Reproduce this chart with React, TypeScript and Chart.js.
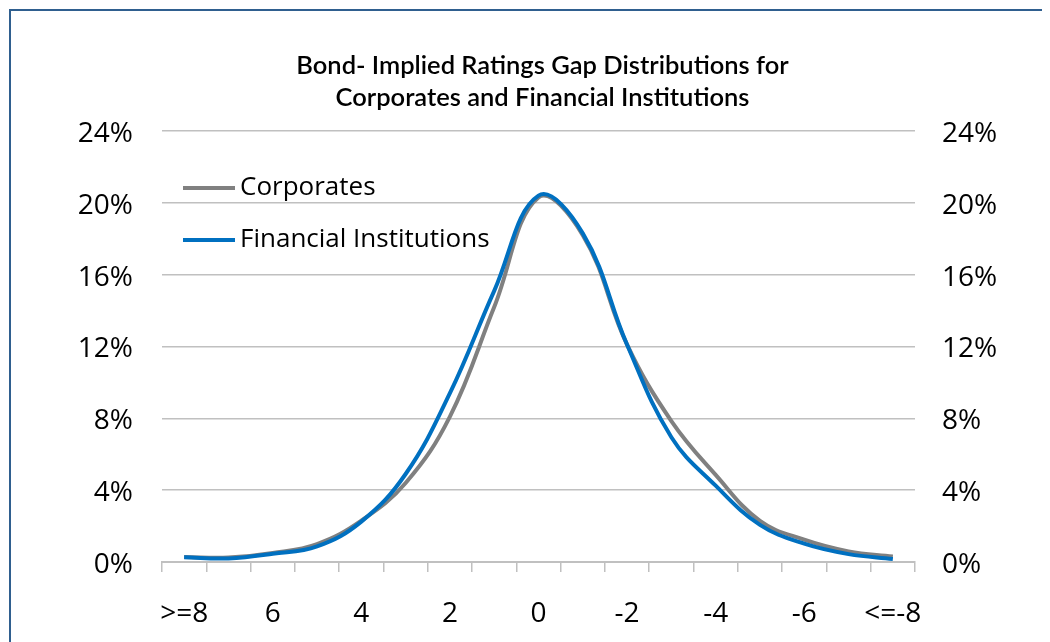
import React, { useEffect, useRef } from 'react';
import { Chart, registerables } from 'chart.js';

Chart.register(...registerables);

const categories = ['>=8', '7', '6', '5', '4', '3', '2', '1', '0', '-1', '-2', '-3', '-4', '-5', '-6', '-7', '<=-8'];
const corporates = [0.28, 0.25, 0.5, 1.0, 2.3, 4.4, 8.1, 14.2, 20.3, 18.2, 12.1, 7.85, 4.85, 2.29, 1.24, 0.59, 0.31];
const financialInstitutions = [0.26, 0.2, 0.46, 0.87, 2.25, 4.9, 9.4, 15.1, 20.4, 18.3, 12.1, 6.95, 4.25, 2.07, 1.02, 0.44, 0.17];
const seriesNames = ['Corporates', 'Financial Institutions'];
const seriesColors = ['#808080', '#0070c0'];
const titleLines = ['Bond- Implied Ratings Gap Distributions for', 'Corporates and Financial Institutions'];
const yMin = 0;
const yMax = 24;
const yStep = 4;

const W = 1042;
const H = 634;
const TICK_FONT = { family: '"Open Sans"', size: 28 };

const titlePlugin = {
  id: 'customTitle',
  afterDraw(chart: any) {
    const { ctx, chartArea } = chart;
    ctx.save();
    ctx.font = '600 25.5px Lato';
    ctx.fillStyle = '#000';
    ctx.textAlign = 'center';
    ctx.textBaseline = 'alphabetic';
    const cx = (chartArea.left + chartArea.right) / 2 + 4;
    titleLines.forEach((t, i) => ctx.fillText(t, cx, 66 + i * 32));
    ctx.restore();
  },
};

const legendPlugin = {
  id: 'insideLegend',
  afterDraw(chart: any) {
    const { ctx, chartArea } = chart;
    ctx.save();
    chart.data.datasets.forEach((ds: any, i: number) => {
      const y = chartArea.top + 57 + i * 52;
      const x0 = chartArea.left + 21;
      ctx.strokeStyle = ds.borderColor;
      ctx.lineWidth = 4;
      ctx.lineCap = 'butt';
      ctx.beginPath();
      ctx.moveTo(x0, y);
      ctx.lineTo(x0 + 52, y);
      ctx.stroke();
      ctx.font = '26px "Open Sans"';
      ctx.fillStyle = '#000';
      ctx.textAlign = 'left';
      ctx.textBaseline = 'middle';
      ctx.fillText(ds.label, x0 + 57, y);
    });
    ctx.restore();
  },
};

export default function App() {
  const ref = useRef<HTMLCanvasElement | null>(null);

  useEffect(() => {
    if (!ref.current) return;
    const chart = new Chart(ref.current, {
      type: 'line',
      data: {
        labels: categories,
        datasets: [
          {
            label: seriesNames[0],
            data: corporates,
            borderColor: seriesColors[0],
            backgroundColor: seriesColors[0],
            borderWidth: 4,
            pointRadius: 0,
            tension: 0.4,
            yAxisID: 'y',
            order: 2,
          },
          {
            label: seriesNames[1],
            data: financialInstitutions,
            borderColor: seriesColors[1],
            backgroundColor: seriesColors[1],
            borderWidth: 4,
            pointRadius: 0,
            tension: 0.4,
            yAxisID: 'y',
            order: 1,
          },
        ],
      },
      options: {
        responsive: false,
        animation: false,
        devicePixelRatio: 1,
        layout: { padding: { top: 123, left: 0, right: 0, bottom: 0 } },
        plugins: {
          legend: { display: false },
          title: { display: false },
          tooltip: { enabled: false },
        },
        scales: {
          x: {
            type: 'category',
            offset: true,
            grid: {
              display: true,
              offset: true,
              drawOnChartArea: false,
              drawTicks: true,
              tickLength: 10,
              color: '#c0c0c0',
              lineWidth: 1.5,
            },
            border: { display: true, color: '#c0c0c0', width: 2 },
            ticks: {
              autoSkip: false,
              maxRotation: 0,
              padding: 25,
              color: '#000',
              font: TICK_FONT,
              callback: (_v: any, i: number) => (i % 2 === 0 ? categories[i] : ''),
            },
            afterFit: (s: any) => {
              s.height = 80;
            },
          },
          y: {
            position: 'left',
            min: yMin,
            max: yMax,
            grid: { display: true, drawTicks: false, color: '#c0c0c0', lineWidth: 1.5 },
            border: { display: false },
            ticks: {
              stepSize: yStep,
              padding: 29,
              labelOffset: 3,
              color: '#000',
              font: TICK_FONT,
              callback: (v: any) => v + '%',
            },
            afterFit: (s: any) => {
              s.width = 154;
            },
          },
          y2: {
            position: 'right',
            min: yMin,
            max: yMax,
            grid: { display: false, drawTicks: false },
            border: { display: false },
            ticks: {
              stepSize: yStep,
              padding: 27,
              labelOffset: 3,
              color: '#000',
              font: TICK_FONT,
              callback: (v: any) => v + '%',
            },
            afterFit: (s: any) => {
              s.width = 135;
            },
          },
        },
      },
      plugins: [titlePlugin, legendPlugin],
    });
    return () => chart.destroy();
  }, []);

  return (
    <div style={{ position: 'relative', width: W, height: H }}>
      <canvas ref={ref} width={W} height={H} style={{ position: 'absolute', left: 0, top: 0 }} />
      <div
        style={{
          position: 'absolute',
          left: 1,
          top: 1,
          right: 0,
          bottom: 0,
          borderTop: '2px solid #2f5f8f',
          borderLeft: '2px solid #2f5f8f',
          pointerEvents: 'none',
        }}
      />
    </div>
  );
}
